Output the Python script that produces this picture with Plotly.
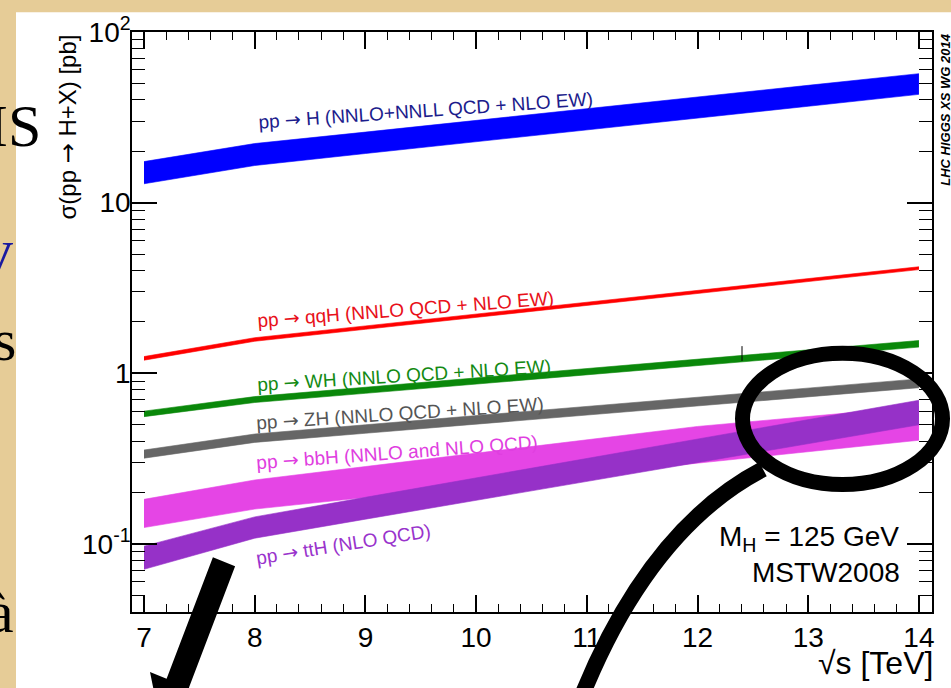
import plotly.graph_objects as go

# ---------------- data ----------------
sqrt_s = [7, 8, 9, 10, 11, 12, 13, 14]

ggH_hi = [17.4, 22.2, 25.9, 30.4, 35.6, 41.6, 48.7, 57.0]
ggH_lo = [12.9, 16.5, 19.4, 22.7, 26.7, 31.3, 36.7, 43.1]

qqH_hi = [1.253, 1.616, 1.895, 2.223, 2.609, 3.06, 3.59, 4.21]
qqH_lo = [1.193, 1.540, 1.810, 2.127, 2.500, 2.94, 3.45, 4.05]

WH_hi = [0.600, 0.730, 0.828, 0.940, 1.066, 1.209, 1.372, 1.556]
WH_lo = [0.557, 0.674, 0.763, 0.865, 0.979, 1.110, 1.257, 1.424]

ZH_hi = [0.355, 0.4406, 0.499, 0.564, 0.639, 0.723, 0.818, 0.927]
ZH_lo = [0.318, 0.3936, 0.445, 0.503, 0.569, 0.643, 0.727, 0.823]

bbH_hi = [0.1825, 0.237, 0.284, 0.340, 0.407, 0.488, 0.558, 0.639]
bbH_lo = [0.1247, 0.160, 0.187, 0.218, 0.255, 0.297, 0.347, 0.405]

ttH_hi = [0.097, 0.144, 0.1875, 0.244, 0.317, 0.412, 0.535, 0.695]
ttH_lo = [0.071, 0.108, 0.1396, 0.180, 0.232, 0.300, 0.387, 0.499]

band_names = ["ggH", "qqH", "WH", "ZH", "bbH", "ttH"]
band_colors = ["#0000ff", "#ff0000", "#0a880a", "#666666", "#e545e5", "#9631c8"]
bands = [(ggH_lo, ggH_hi), (qqH_lo, qqH_hi), (WH_lo, WH_hi),
         (ZH_lo, ZH_hi), (bbH_lo, bbH_hi), (ttH_lo, ttH_hi)]

ARROW = "<span style='font-family:DejaVu Sans'>→</span>"
label_texts = ["pp " + ARROW + " H (NNLO+NNLL QCD + NLO EW)",
               "pp " + ARROW + " qqH (NNLO QCD + NLO EW)",
               "pp " + ARROW + " WH (NNLO QCD + NLO EW)",
               "pp " + ARROW + " ZH (NNLO QCD + NLO EW)",
               "pp " + ARROW + " bbH (NNLO and NLO QCD)",
               "pp " + ARROW + " ttH (NLO QCD)"]
label_colors = ["#1c1c8c", "#e8101a", "#138a13", "#555555", "#e03ee0", "#9933cc"]

x_ticks = [7, 8, 9, 10, 11, 12, 13, 14]
y_tickvals = [0.1, 1, 10, 100]
y_ticktext = ["10<sup>-1</sup>", "1", "10", "10<sup>2</sup>"]

# ---------------- layout geometry ----------------
W, H = 951, 688
ML, MR, MT, MB = 132, 19, 23, 76
PW, PH = W - ML - MR, H - MT - MB


def P(px, py):
    return (px - ML) / PW, (H - MB - py) / PH


FONT = "Liberation Sans, Arial, Helvetica, sans-serif"
SERIF = "Liberation Serif, DejaVu Serif, serif"

fig = go.Figure()
for (lo, hi), c in zip(bands, band_colors):
    fig.add_trace(go.Scatter(x=sqrt_s, y=lo, mode="lines",
                             line=dict(width=0.6, color=c),
                             hoverinfo="skip", showlegend=False))
    fig.add_trace(go.Scatter(x=sqrt_s, y=hi, mode="lines",
                             line=dict(width=0.6, color=c),
                             fill="tonexty", fillcolor=c,
                             hoverinfo="skip", showlegend=False))

shapes = []
# white slide picture panel
x0, y1 = P(16, 3)
x1, y0 = P(951, 688)
shapes.append(dict(type="rect", xref="paper", yref="paper", x0=x0, y0=y0 - 0.02,
                   x1=x1 + 0.02, y1=y1, fillcolor="white", line=dict(width=0),
                   layer="below"))
# stray tick mark
a = P(742, 342); b = P(742, 357)
shapes.append(dict(type="line", xref="paper", yref="paper", x0=a[0], y0=a[1],
                   x1=b[0], y1=b[1], line=dict(color="black", width=1)))
# ellipse
e0 = P(742.5, 482.5); e1 = P(942.5, 349.2)
shapes.append(dict(type="circle", xref="paper", yref="paper", x0=e0[0], y0=e0[1],
                   x1=e1[0], y1=e1[1], line=dict(color="black", width=15)))
# magnifier handle (curve)
p0 = P(763, 467); pc = P(648, 528); p2 = P(580, 702)
shapes.append(dict(type="path", xref="paper", yref="paper",
                   path=f"M {p0[0]},{p0[1]} Q {pc[0]},{pc[1]} {p2[0]},{p2[1]}",
                   line=dict(color="black", width=16)))
# thick arrow on the left
arrow_pts = [(212.9, 556.4), (166.6, 679.8), (150, 673), (160.6, 726),
             (205.5, 695.8), (188.9, 689), (235.1, 565.6)]
pp = [P(x, y) for x, y in arrow_pts]
path = "M " + " L ".join(f"{x},{y}" for x, y in pp) + " Z"
shapes.append(dict(type="path", xref="paper", yref="paper", path=path,
                   fillcolor="black", line=dict(width=0)))

annotations = []


def add_text(text, px, py, size, color="black", angle=0, xanchor="center",
             yanchor="middle", family=FONT):
    x, y = P(px, py)
    annotations.append(dict(text=text, x=x, y=y, xref="paper", yref="paper",
                            showarrow=False, textangle=angle,
                            xanchor=xanchor, yanchor=yanchor,
                            font=dict(family=family, size=size, color=color)))


label_pos = [(425, 102.5, -4.0), (405, 304, -4.4), (404, 371, -3.6),
             (400, 409.5, -3.8), (397, 450, -4.2), (343, 542.6, -9.0)]
for t, c, (px, py, ang) in zip(label_texts, label_colors, label_pos):
    add_text(t, px, py, 19, c, ang)

# y axis title
add_text("σ(pp " + ARROW + " H+X) [pb]", 68, 120, 24, angle=-90)
# x axis title
add_text("√s [TeV]", 935, 664, 32, xanchor="right")
# M_H and PDF
add_text("M<sub>H</sub> = 125 GeV", 901, 537, 28, xanchor="right")
add_text("MSTW2008", 902, 572, 28, xanchor="right")
# LHC HIGGS XS WG 2014
add_text("<b><i>LHC HIGGS XS WG 2014</i></b>", 946, 102, 13, angle=-90)
# slide text fragments on the left
for t, c, px, py in [("IS", "black", 43, 118), ("v", "#1a1aa0", 15, 244),
                     ("s", "black", 18, 336), ("à", "black", 16, 612)]:
    add_text(t, px, py, 60, c, xanchor="right", family=SERIF)

fig.update_layout(
    width=W, height=H, autosize=False,
    margin=dict(l=ML, r=MR, t=MT, b=MB, pad=0),
    paper_bgcolor="#e6cc97", plot_bgcolor="white",
    shapes=shapes, annotations=annotations, showlegend=False,
    xaxis=dict(range=[6.8916, 14.118], tickvals=x_ticks, ticks="inside",
               ticklen=17, tickwidth=1.5, tickcolor="black", showline=True,
               linecolor="black", linewidth=1.5, mirror="ticks", showgrid=False,
               zeroline=False, tickfont=dict(family=FONT, size=28, color="black"),
               minor=dict(ticks="inside", ticklen=8, tickwidth=1.2, tickcolor="black",
                          dtick=0.2, tick0=7, showgrid=False)),
    yaxis=dict(type="log", range=[-1.399, 2.0], tickvals=y_tickvals,
               ticktext=y_ticktext, ticks="inside", ticklen=25, tickwidth=1.5,
               tickcolor="black", showline=True, linecolor="black", linewidth=1.5,
               mirror="ticks", showgrid=False, zeroline=False,
               ticklabelstandoff=-6,
               tickfont=dict(family=FONT, size=28, color="black"),
               minor=dict(ticks="inside", ticklen=13, tickwidth=1.2,
                          tickcolor="black", dtick="D1", showgrid=False)),
)

fig.write_html("out.html")
